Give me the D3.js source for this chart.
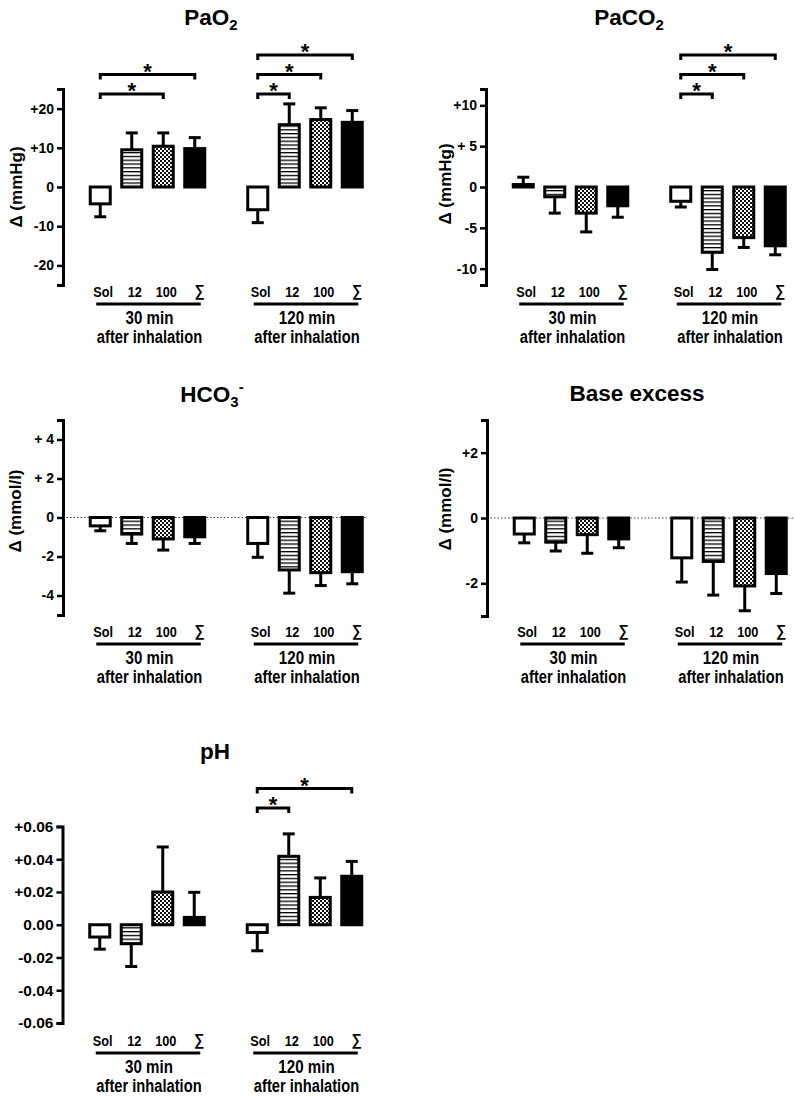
<!DOCTYPE html>
<html><head><meta charset="utf-8">
<script src="https://cdn.jsdelivr.net/npm/d3@7"></script>
<style>
body{margin:0;background:#fff}
svg{display:block}
text{font-family:"Liberation Sans",Arial,Helvetica,sans-serif;font-weight:bold;fill:#000}
</style>
</head><body>
<svg id="chart" width="795" height="1096"></svg>
<script>
// ---------- data ----------
const categories = ["Sol", "12", "100", "∑"];
const timepoints = ["30 min", "120 min"];
const subtitle = "after inhalation";

// PaO2 (mmHg): mean and SD per category
const pao2Mean30 = [-4.3, 9.5, 10.4, 9.8];
const pao2Sd30 = [3.3, 4.3, 3.4, 2.8];
const pao2Mean120 = [-5.8, 15.9, 17.2, 16.5];
const pao2Sd120 = [3.3, 5.3, 3.0, 3.0];
const pao2Domain = [-25, 25];
const pao2Ticks = [-20, -10, 0, 10, 20];
const pao2TickLabels = ["-20", "-10", "0", "+10", "+20"];
const pao2Sig = [["30 min", "Sol", "100", 0], ["30 min", "Sol", "∑", 1],
                 ["120 min", "Sol", "12", 0], ["120 min", "Sol", "100", 1], ["120 min", "Sol", "∑", 2]];

// PaCO2 (mmHg)
const paco2Mean30 = [0.3, -1.2, -3.2, -2.3];
const paco2Sd30 = [0.9, 2.0, 2.3, 1.4];
const paco2Mean120 = [-1.75, -8.0, -6.2, -7.2];
const paco2Sd120 = [0.7, 2.1, 1.2, 1.1];
const paco2Domain = [-12, 12];
const paco2Ticks = [-10, -5, 0, 5, 10];
const paco2TickLabels = ["-10", "-5", "0", "+ 5", "+10"];
const paco2Sig = [["120 min", "Sol", "12", 0], ["120 min", "Sol", "100", 1], ["120 min", "Sol", "∑", 2]];

// HCO3- (mmol/l)
const hco3Mean30 = [-0.43, -0.85, -1.1, -0.99];
const hco3Sd30 = [0.25, 0.48, 0.57, 0.34];
const hco3Mean120 = [-1.33, -2.69, -2.83, -2.78];
const hco3Sd120 = [0.71, 1.19, 0.66, 0.62];
const hco3Domain = [-5, 5];
const hco3Ticks = [-4, -2, 0, 2, 4];
const hco3TickLabels = ["-4", "-2", "0", "+ 2", "+ 4"];
const hco3Sig = [];

// Base excess (mmol/l)
const beMean30 = [-0.49, -0.74, -0.51, -0.64];
const beSd30 = [0.27, 0.27, 0.57, 0.27];
const beMean120 = [-1.22, -1.33, -2.08, -1.70];
const beSd120 = [0.74, 1.03, 0.76, 0.61];
const beDomain = [-3, 3];
const beTicks = [-2, 0, 2];
const beTickLabels = ["-2", "0", "+2"];
const beSig = [];

// pH
const phMean30 = [-0.0075, -0.0116, 0.020, 0.0045];
const phSd30 = [0.0074, 0.0139, 0.0275, 0.0153];
const phMean120 = [-0.0047, 0.0418, 0.0167, 0.0296];
const phSd120 = [0.0112, 0.0137, 0.0119, 0.0091];
const phDomain = [-0.06, 0.06];
const phTicks = [-0.06, -0.04, -0.02, 0, 0.02, 0.04, 0.06];
const phTickLabels = ["-0.06", "-0.04", "-0.02", "0.00", "+0.02", "+0.04", "+0.06"];
const phSig = [["120 min", "Sol", "12", 0], ["120 min", "Sol", "∑", 1]];

// ---------- panels ----------
const panels = [
  { title: [["PaO", ""], ["2", "sub"]], yLabel: "Δ (mmHg)",
    mean: { "30 min": pao2Mean30, "120 min": pao2Mean120 }, sd: { "30 min": pao2Sd30, "120 min": pao2Sd120 },
    domain: pao2Domain, ticks: pao2Ticks, tickLabels: pao2TickLabels, sig: pao2Sig,
    L: { axisX: 63, yTop: 89, yBottom: 285, catY: 292, titleX: 211, titleY: 25, ylabX: 16, ylabY: 187, sigBase: 94, zeroEnd: null, tickFont: 14 } },
  { title: [["PaCO", ""], ["2", "sub"]], yLabel: "Δ (mmHg)",
    mean: { "30 min": paco2Mean30, "120 min": paco2Mean120 }, sd: { "30 min": paco2Sd30, "120 min": paco2Sd120 },
    domain: paco2Domain, ticks: paco2Ticks, tickLabels: paco2TickLabels, sig: paco2Sig,
    L: { axisX: 486, yTop: 89, yBottom: 285, catY: 292, titleX: 629, titleY: 25, ylabX: 445, ylabY: 184, sigBase: 94, zeroEnd: null, tickFont: 14 } },
  { title: [["HCO", ""], ["3", "sub"], ["-", "sup"]], yLabel: "Δ (mmol/l)",
    mean: { "30 min": hco3Mean30, "120 min": hco3Mean120 }, sd: { "30 min": hco3Sd30, "120 min": hco3Sd120 },
    domain: hco3Domain, ticks: hco3Ticks, tickLabels: hco3TickLabels, sig: hco3Sig,
    L: { axisX: 63, yTop: 420, yBottom: 615, catY: 632, titleX: 212, titleY: 401.5, ylabX: 15, ylabY: 511, sigBase: 0, zeroEnd: 367, tickFont: 14 } },
  { title: [["Base excess", ""]], yLabel: "Δ (mmol/l)",
    mean: { "30 min": beMean30, "120 min": beMean120 }, sd: { "30 min": beSd30, "120 min": beSd120 },
    domain: beDomain, ticks: beTicks, tickLabels: beTickLabels, sig: beSig,
    L: { axisX: 487, yTop: 420, yBottom: 616, catY: 632, titleX: 637, titleY: 401, ylabX: 445, ylabY: 509, sigBase: 0, zeroEnd: 795, tickFont: 14 } },
  { title: [["pH", ""]], yLabel: null,
    mean: { "30 min": phMean30, "120 min": phMean120 }, sd: { "30 min": phSd30, "120 min": phSd120 },
    domain: phDomain, ticks: phTicks, tickLabels: phTickLabels, sig: phSig,
    L: { axisX: 62.5, yTop: 826.5, yBottom: 1023, catY: 1041, titleX: 215, titleY: 759, ylabX: 0, ylabY: 0, sigBase: 808, zeroEnd: null, tickFont: 15.5 } }
];

// ---------- drawing ----------
const svg = d3.select("#chart");
svg.append("rect").attr("width", 795).attr("height", 1096).attr("fill", "#fff");

const defs = svg.append("defs");
const stripes = defs.append("pattern").attr("id", "stripes").attr("patternUnits", "userSpaceOnUse")
  .attr("width", 4).attr("height", 3.8);
stripes.append("rect").attr("width", 4).attr("height", 3.8).attr("fill", "#fff");
stripes.append("rect").attr("width", 4).attr("height", 1.3).attr("fill", "#000");
const checker = defs.append("pattern").attr("id", "checker").attr("patternUnits", "userSpaceOnUse")
  .attr("width", 4).attr("height", 4);
checker.append("rect").attr("width", 4).attr("height", 4).attr("fill", "#fff");
checker.append("rect").attr("width", 2).attr("height", 2).attr("fill", "#111");
checker.append("rect").attr("x", 2).attr("y", 2).attr("width", 2).attr("height", 2).attr("fill", "#111");

const fills = { "Sol": "#fff", "12": "url(#stripes)", "100": "url(#checker)", "∑": "#000" };

function condensed(g, x, y, str, size, sx, weight) {
  return g.append("text")
    .attr("transform", `translate(${x},${y}) scale(${sx},1)`)
    .attr("text-anchor", "middle").attr("dominant-baseline", "central")
    .attr("font-size", size).attr("font-weight", weight || "bold")
    .text(str);
}

panels.forEach(p => {
  const L = p.L;
  const g = svg.append("g");
  const y = d3.scaleLinear().domain(p.domain).range([L.yBottom, L.yTop]);
  const xG = d3.scalePoint().domain(timepoints).range([L.axisX + 84.5, L.axisX + 242]);
  const xC = d3.scaleBand().domain(categories).range([-63, 63]).paddingInner(0.365).paddingOuter(0.1825);
  const cx = (t, c) => xG(t) + xC(c) + xC.bandwidth() / 2;

  // title
  const tt = g.append("text").attr("x", L.titleX).attr("y", L.titleY)
    .attr("text-anchor", "middle").attr("font-size", 22.5);
  let shift = 0;
  p.title.forEach(([s, kind]) => {
    const target = kind === "sub" ? 5 : kind === "sup" ? -10 : 0;
    tt.append("tspan").attr("dy", target - shift).attr("font-size", kind ? 15 : 22.5).text(s);
    shift = target;
  });

  // y label
  if (p.yLabel) {
    g.append("text").attr("transform", `translate(${L.ylabX},${L.ylabY}) rotate(-90)`)
      .attr("text-anchor", "middle").attr("dominant-baseline", "central")
      .attr("font-size", 17).text(p.yLabel);
  }

  // zero dotted line
  if (L.zeroEnd) {
    g.append("line").attr("x1", L.axisX).attr("x2", L.zeroEnd)
      .attr("y1", y(0)).attr("y2", y(0))
      .attr("stroke", "#444").attr("stroke-width", 1).attr("stroke-dasharray", "1.5,2");
  }

  // axis
  const ax = g.append("g").attr("transform", `translate(${L.axisX},0)`)
    .call(d3.axisLeft(y).tickValues(p.ticks).tickFormat((d, i) => p.tickLabels[i])
      .tickSizeOuter(0).tickSize(6).tickPadding(3));
  ax.select(".domain").attr("stroke", "#000").attr("stroke-width", 3);
  ax.selectAll(".tick line").attr("stroke", "#000").attr("stroke-width", 2.5);
  ax.selectAll(".tick text").attr("font-size", L.tickFont).attr("font-weight", "bold")
    .attr("font-family", "Liberation Sans, Arial, sans-serif").attr("fill", "#000");

  // bars + error bars
  timepoints.forEach(t => {
    categories.forEach((c, i) => {
      const v = p.mean[t][i], s = p.sd[t][i];
      const tip = v + (v >= 0 ? s : -s);
      const x = cx(t, c);
      g.append("line").attr("x1", x).attr("x2", x).attr("y1", y(v)).attr("y2", y(tip))
        .attr("stroke", "#000").attr("stroke-width", 3);
      g.append("line").attr("x1", x - 6).attr("x2", x + 6).attr("y1", y(tip)).attr("y2", y(tip))
        .attr("stroke", "#000").attr("stroke-width", 3);
      g.append("rect").attr("x", xG(t) + xC(c)).attr("width", xC.bandwidth())
        .attr("y", Math.min(y(0), y(v))).attr("height", Math.abs(y(v) - y(0)))
        .attr("fill", fills[c]).attr("stroke", "#000").attr("stroke-width", 3);
      // category label
      if (c === "∑") condensed(g, x + 5, L.catY - 2, c, 16, 0.9, "normal");
      else condensed(g, x + 3, L.catY, c, 15.5, 0.82);
    });
    // group underline and labels
    g.append("line").attr("x1", cx(t, categories[0]) - 4).attr("x2", cx(t, categories[3]) + 6)
      .attr("y1", L.catY + 12).attr("y2", L.catY + 12).attr("stroke", "#000").attr("stroke-width", 3);
    condensed(g, xG(t) + 2, L.catY + 26.5, t, 18, 0.84);
    condensed(g, xG(t) + 2, L.catY + 44.5, subtitle, 17.5, 0.84);
  });

  // significance brackets
  p.sig.forEach(([t, a, b, lvl]) => {
    const x1 = cx(t, a), x2 = cx(t, b);
    const yy = L.sigBase - lvl * 19.5;
    g.append("path").attr("d", `M${x1},${yy + 5}V${yy}H${x2}V${yy + 5}`)
      .attr("fill", "none").attr("stroke", "#000").attr("stroke-width", 3);
    g.append("text").attr("x", (x1 + x2) / 2).attr("y", yy + 4)
      .attr("text-anchor", "middle").attr("font-size", 22).text("*");
  });
});
</script>
</body></html>
